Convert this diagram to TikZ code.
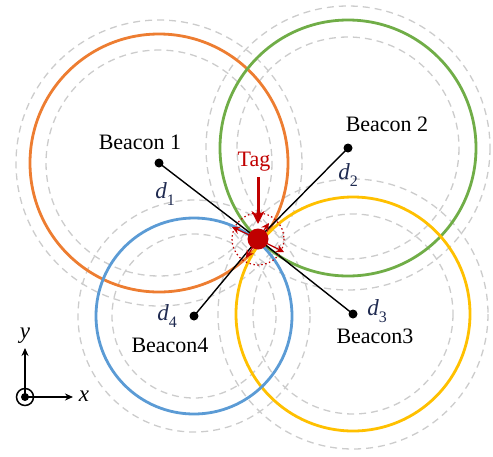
\documentclass[tikz,border=0pt]{standalone}
\usepackage{fontspec}
\setmainfont{Liberation Serif}
\usetikzlibrary{arrows.meta}
\definecolor{corange}{HTML}{ED7D31}
\definecolor{cgreen}{HTML}{70AD47}
\definecolor{cyellow}{HTML}{FFC000}
\definecolor{cblue}{HTML}{5B9BD5}
\definecolor{cred}{HTML}{C00000}
\definecolor{cgray}{HTML}{CCCCCC}
\definecolor{cnavy}{HTML}{1F2A50}
\tikzset{
  dashring/.style={draw=cgray, line width=1.3pt, dash pattern=on 7pt off 5pt},
  ring/.style={line width=2.8pt},
  beacondot/.style={circle, fill=black, inner sep=0pt, minimum size=9pt},
  lbl/.style={font=\fontsize{22}{24}\selectfont, inner sep=0pt},
  dlbl/.style={font=\fontsize{23}{24}\selectfont\itshape, text=cnavy, inner sep=0pt},
  rangeline/.style={draw=black, line width=1.4pt},
  errarrow/.style={draw=cred, line width=1.2pt, -{Stealth[length=8pt,width=8pt]}},
  axisarrow/.style={draw=black, line width=1.5pt, -{Stealth[length=8pt,width=7pt]}}
}
\newcommand{\dlab}[1]{d\raisebox{-0.3em}{\fontsize{16}{16}\selectfont\upshape #1}}
\begin{document}
\begin{tikzpicture}[x=1pt,y=-1pt]
\useasboundingbox (0,0) rectangle (493,456);
% beacon positions
\coordinate (b1) at (159,163);
\coordinate (b2) at (348,148);
\coordinate (b3) at (353,314);
\coordinate (b4) at (194,316);
\coordinate (t) at (258,239);
% dashed rings
\draw[dashring] (b1) circle[radius=113];
\draw[dashring] (b1) circle[radius=143];
\draw[dashring] (b2) circle[radius=111];
\draw[dashring] (b2) circle[radius=142];
\draw[dashring] (b3) circle[radius=100];
\draw[dashring] (b3) circle[radius=135];
\draw[dashring] (b4) circle[radius=82];
\draw[dashring] (b4) circle[radius=116];
% coloured rings
\draw[ring, corange] (b1) circle[radius=129];
\draw[ring, cgreen] (b2) circle[radius=128];
\draw[ring, cyellow] (b3) circle[radius=117];
\draw[ring, cblue] (b4) circle[radius=98];
% range lines
\draw[rangeline] (b1) -- (t);
\draw[rangeline] (b2) -- (t);
\draw[rangeline] (b3) -- (t);
\draw[rangeline] (b4) -- (t);
% uncertainty
\draw[cred, line width=1.2pt, dash pattern=on 1.5pt off 2.5pt] (t) circle[radius=26];
\coordinate (e1) at (232,227);
\coordinate (e2) at (269,223);
\coordinate (e3) at (284,252);
\coordinate (e4) at (246,258);
\draw[errarrow] (t) -- (e1);
\draw[errarrow] (t) -- (e2);
\draw[errarrow] (t) -- (e3);
\draw[errarrow] (t) -- (e4);
\node[circle, fill=cred, inner sep=0pt, minimum size=21pt] (tag) at (t) {};
% tag label and arrow
\node[lbl, text=cred] (taglbl) at (254,162) {Tag};
\coordinate (tagtip) at (258,224);
\draw[draw=cred, line width=3pt, -{Stealth[length=13pt,width=13pt]}] (258,177) -- (tagtip);
% beacon dots
\node[beacondot] (n1) at (b1) {};
\node[beacondot] (n2) at (b2) {};
\node[beacondot] (n3) at (b3) {};
\node[beacondot] (n4) at (b4) {};
% labels
\node[lbl] (l1) at (140,142) {Beacon 1};
\node[lbl] (l2) at (387,124) {Beacon 2};
\node[lbl] (l3) at (375,336) {Beacon3};
\node[lbl] (l4) at (170,345) {Beacon4};
\node[dlbl] (d1) at (165,194) {\dlab{1}};
\node[dlbl] (d2) at (348,175) {\dlab{2}};
\node[dlbl] (d3) at (377,311) {\dlab{3}};
\node[dlbl] (d4) at (167,316) {\dlab{4}};
% axes
\coordinate (o) at (25,397);
\draw[line width=1.5pt] (o) circle[radius=8.5];
\fill (o) circle[radius=4];
\coordinate (ax) at (73,397);
\coordinate (ay) at (25,348);
\draw[axisarrow] (o) -- (ax);
\draw[axisarrow] (o) -- (ay);
\node[lbl, font=\fontsize{23}{24}\selectfont\itshape] (xl) at (84,396) {x};
\node[lbl, font=\fontsize{23}{24}\selectfont\itshape] (yl) at (25,336) {y};
\end{tikzpicture}
\end{document}
